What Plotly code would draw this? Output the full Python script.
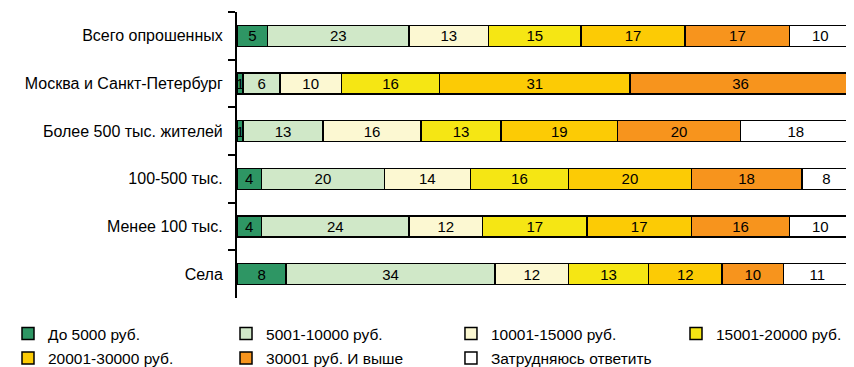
import plotly.graph_objects as go

categories = ['Всего опрошенных', 'Москва и Санкт-Петербург', 'Более 500 тыс. жителей',
              '100-500 тыс.', 'Менее 100 тыс.', 'Села']

series_names = ['До 5000 руб.', '5001-10000 руб.', '10001-15000 руб.', '15001-20000 руб.',
                '20001-30000 руб.', '30001 руб. И выше', 'Затрудняюсь ответить']

do_5000 = [5, 1, 1, 4, 4, 8]
r_5001_10000 = [23, 6, 13, 20, 24, 34]
r_10001_15000 = [13, 10, 16, 14, 12, 12]
r_15001_20000 = [15, 16, 13, 16, 17, 13]
r_20001_30000 = [17, 31, 19, 20, 17, 12]
r_30001_up = [17, 36, 20, 18, 16, 10]
hard_to_say = [10, 0, 18, 8, 10, 11]

values = [do_5000, r_5001_10000, r_10001_15000, r_15001_20000, r_20001_30000, r_30001_up, hard_to_say]
colors = ['#2e9664', '#d0e8c8', '#fcf8d2', '#f5e614', '#fccb05', '#f7941d', '#ffffff']

# legend placement (two rows, four columns), one legend per series
leg_x = [0.0, 0.2577, 0.5236, 0.7896, 0.0, 0.2577, 0.5236]
leg_y = [0.092, 0.092, 0.092, 0.092, 0.024, 0.024, 0.024]

fig = go.Figure()
legends = {}
for i, (name, vals, clr) in enumerate(zip(series_names, values, colors)):
    lg = 'legend' if i == 0 else 'legend' + str(i + 1)
    fig.add_trace(go.Bar(
        y=categories, x=vals, name=name, orientation='h', legend=lg,
        marker={'color': clr, 'line': {'color': '#000000', 'width': 1.5}},
        text=[str(v) if v else '' for v in vals],
        textposition='inside', insidetextanchor='middle', textangle=0,
        textfont={'family': 'Liberation Sans, Arial', 'size': 15, 'color': '#000000'},
        constraintext='none',
    ))
    legends[lg] = {'xref': 'container', 'yref': 'container',
                   'x': leg_x[i], 'y': leg_y[i], 'xanchor': 'left', 'yanchor': 'middle',
                   'font': {'family': 'Liberation Sans, Arial', 'size': 15.5, 'color': '#000000'},
                   'itemwidth': 30, 'bgcolor': 'rgba(0,0,0,0)'}

# page body has an 8px margin, so the figure is drawn 8px smaller
fig.update_layout(
    width=846, height=359,
    barmode='stack', bargap=0.56,
    plot_bgcolor='white', paper_bgcolor='white',
    margin={'l': 229, 'r': 3, 't': 4, 'b': 69, 'autoexpand': False},
    uniformtext={'minsize': 15, 'mode': 'show'},
    font={'family': 'Liberation Sans, Arial', 'size': 16, 'color': '#000000'},
    showlegend=True,
    **legends,
)
fig.update_xaxes(range=[0, 100], visible=False)
fig.update_yaxes(autorange='reversed', automargin=False, showline=True, linecolor='#000000', linewidth=2,
                 ticks='outside', tickson='boundaries', ticklen=7, tickwidth=2,
                 tickcolor='#000000', ticklabelstandoff=9)

fig.write_html("out.html")
